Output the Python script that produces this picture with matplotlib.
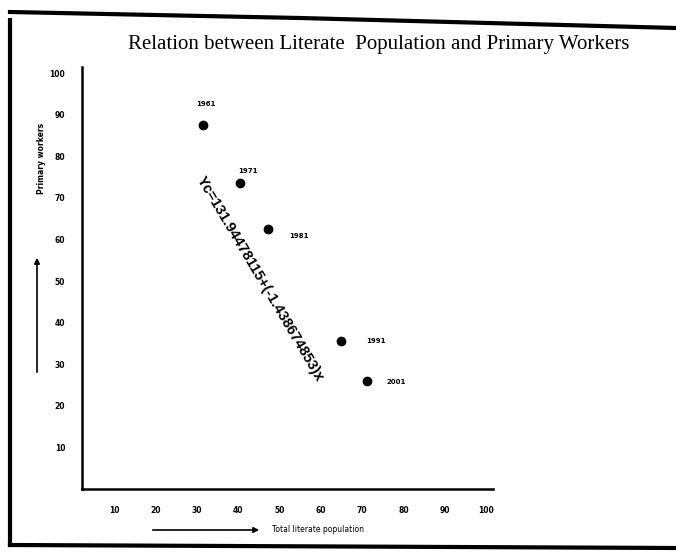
import matplotlib.pyplot as plt
from matplotlib.lines import Line2D

# Literate population (%) vs primary workers (%) by census year
years = ['1961', '1971', '1981', '1991', '2001']
literate = [31.5, 40.4, 47.2, 64.9, 71.2]
primary = [87.5, 73.5, 62.5, 35.6, 26.0]
ticks = [10, 20, 30, 40, 50, 60, 70, 80, 90, 100]
equation = 'Yc=131.94478115+(-1.438674853)x'

# label offsets in points (dx, dy)
offsets = [(-5, 15), (-1, 9), (15, -5), (18, 0), (14, -1)]

fig = plt.figure(figsize=(6.76, 5.52), dpi=100)
ax = fig.add_axes([82 / 676, 63 / 552, 411 / 676, 422 / 552])

ax.scatter(literate, primary, s=36, color='black', zorder=5)
for yr, x, y, off in zip(years, literate, primary, offsets):
    ax.annotate(yr, (x, y), xytext=off, textcoords='offset points',
                fontsize=5, fontweight='bold', ha='left', va='center')

ax.text(45.4, 50.5, equation, rotation=-59.3, rotation_mode='anchor',
        ha='center', va='center', fontsize=10.5, fontweight='bold',
        family='Liberation Sans')

ax.set_xlim(2.2, 101.7)
ax.set_ylim(0, 101.5)
ax.set_xticks(ticks)
ax.set_yticks(ticks)
ax.tick_params(length=0, labelsize=5.5, pad=12)
for lbl in ax.get_xticklabels() + ax.get_yticklabels():
    lbl.set_fontweight('bold')
for s in ['top', 'right']:
    ax.spines[s].set_visible(False)
for s in ['left', 'bottom']:
    ax.spines[s].set_linewidth(1.8)

fig.text(379 / 676, 1 - 44 / 552,
         'Relation between Literate  Population and Primary Workers',
         ha='center', va='center', fontsize=15, family='Liberation Serif')

# axis labels with arrows
ax_arrow = dict(arrowstyle='-|>', color='black', lw=1.2, mutation_scale=8)
fig.patches.append(plt.matplotlib.patches.FancyArrowPatch(
    (150 / 676, 1 - 530 / 552), (262 / 676, 1 - 530 / 552),
    transform=fig.transFigure, **ax_arrow))
fig.text(272 / 676, 1 - 530 / 552, 'Total literate population',
         ha='left', va='center', fontsize=5.5)
fig.patches.append(plt.matplotlib.patches.FancyArrowPatch(
    (37 / 676, 1 - 375 / 552), (37 / 676, 1 - 255 / 552),
    transform=fig.transFigure, **ax_arrow))
fig.text(42 / 676, 1 - 158 / 552, 'Primary workers', rotation=90,
         ha='center', va='center', fontsize=5.5, fontweight='bold')

# scanned page border
fig.lines.append(Line2D([10 / 676, 10 / 676], [1 - 545 / 552, 1 - 20 / 552],
                        transform=fig.transFigure, color='black', lw=3))
fig.lines.append(Line2D([10 / 676, 676 / 676], [1 - 545 / 552, 1 - 548 / 552],
                        transform=fig.transFigure, color='black', lw=3))
fig.lines.append(Line2D([10 / 676, 300 / 676, 676 / 676],
                        [1 - 12 / 552, 1 - 18 / 552, 1 - 28 / 552],
                        transform=fig.transFigure, color='black', lw=3))

fig.savefig('out.png', dpi=100)
